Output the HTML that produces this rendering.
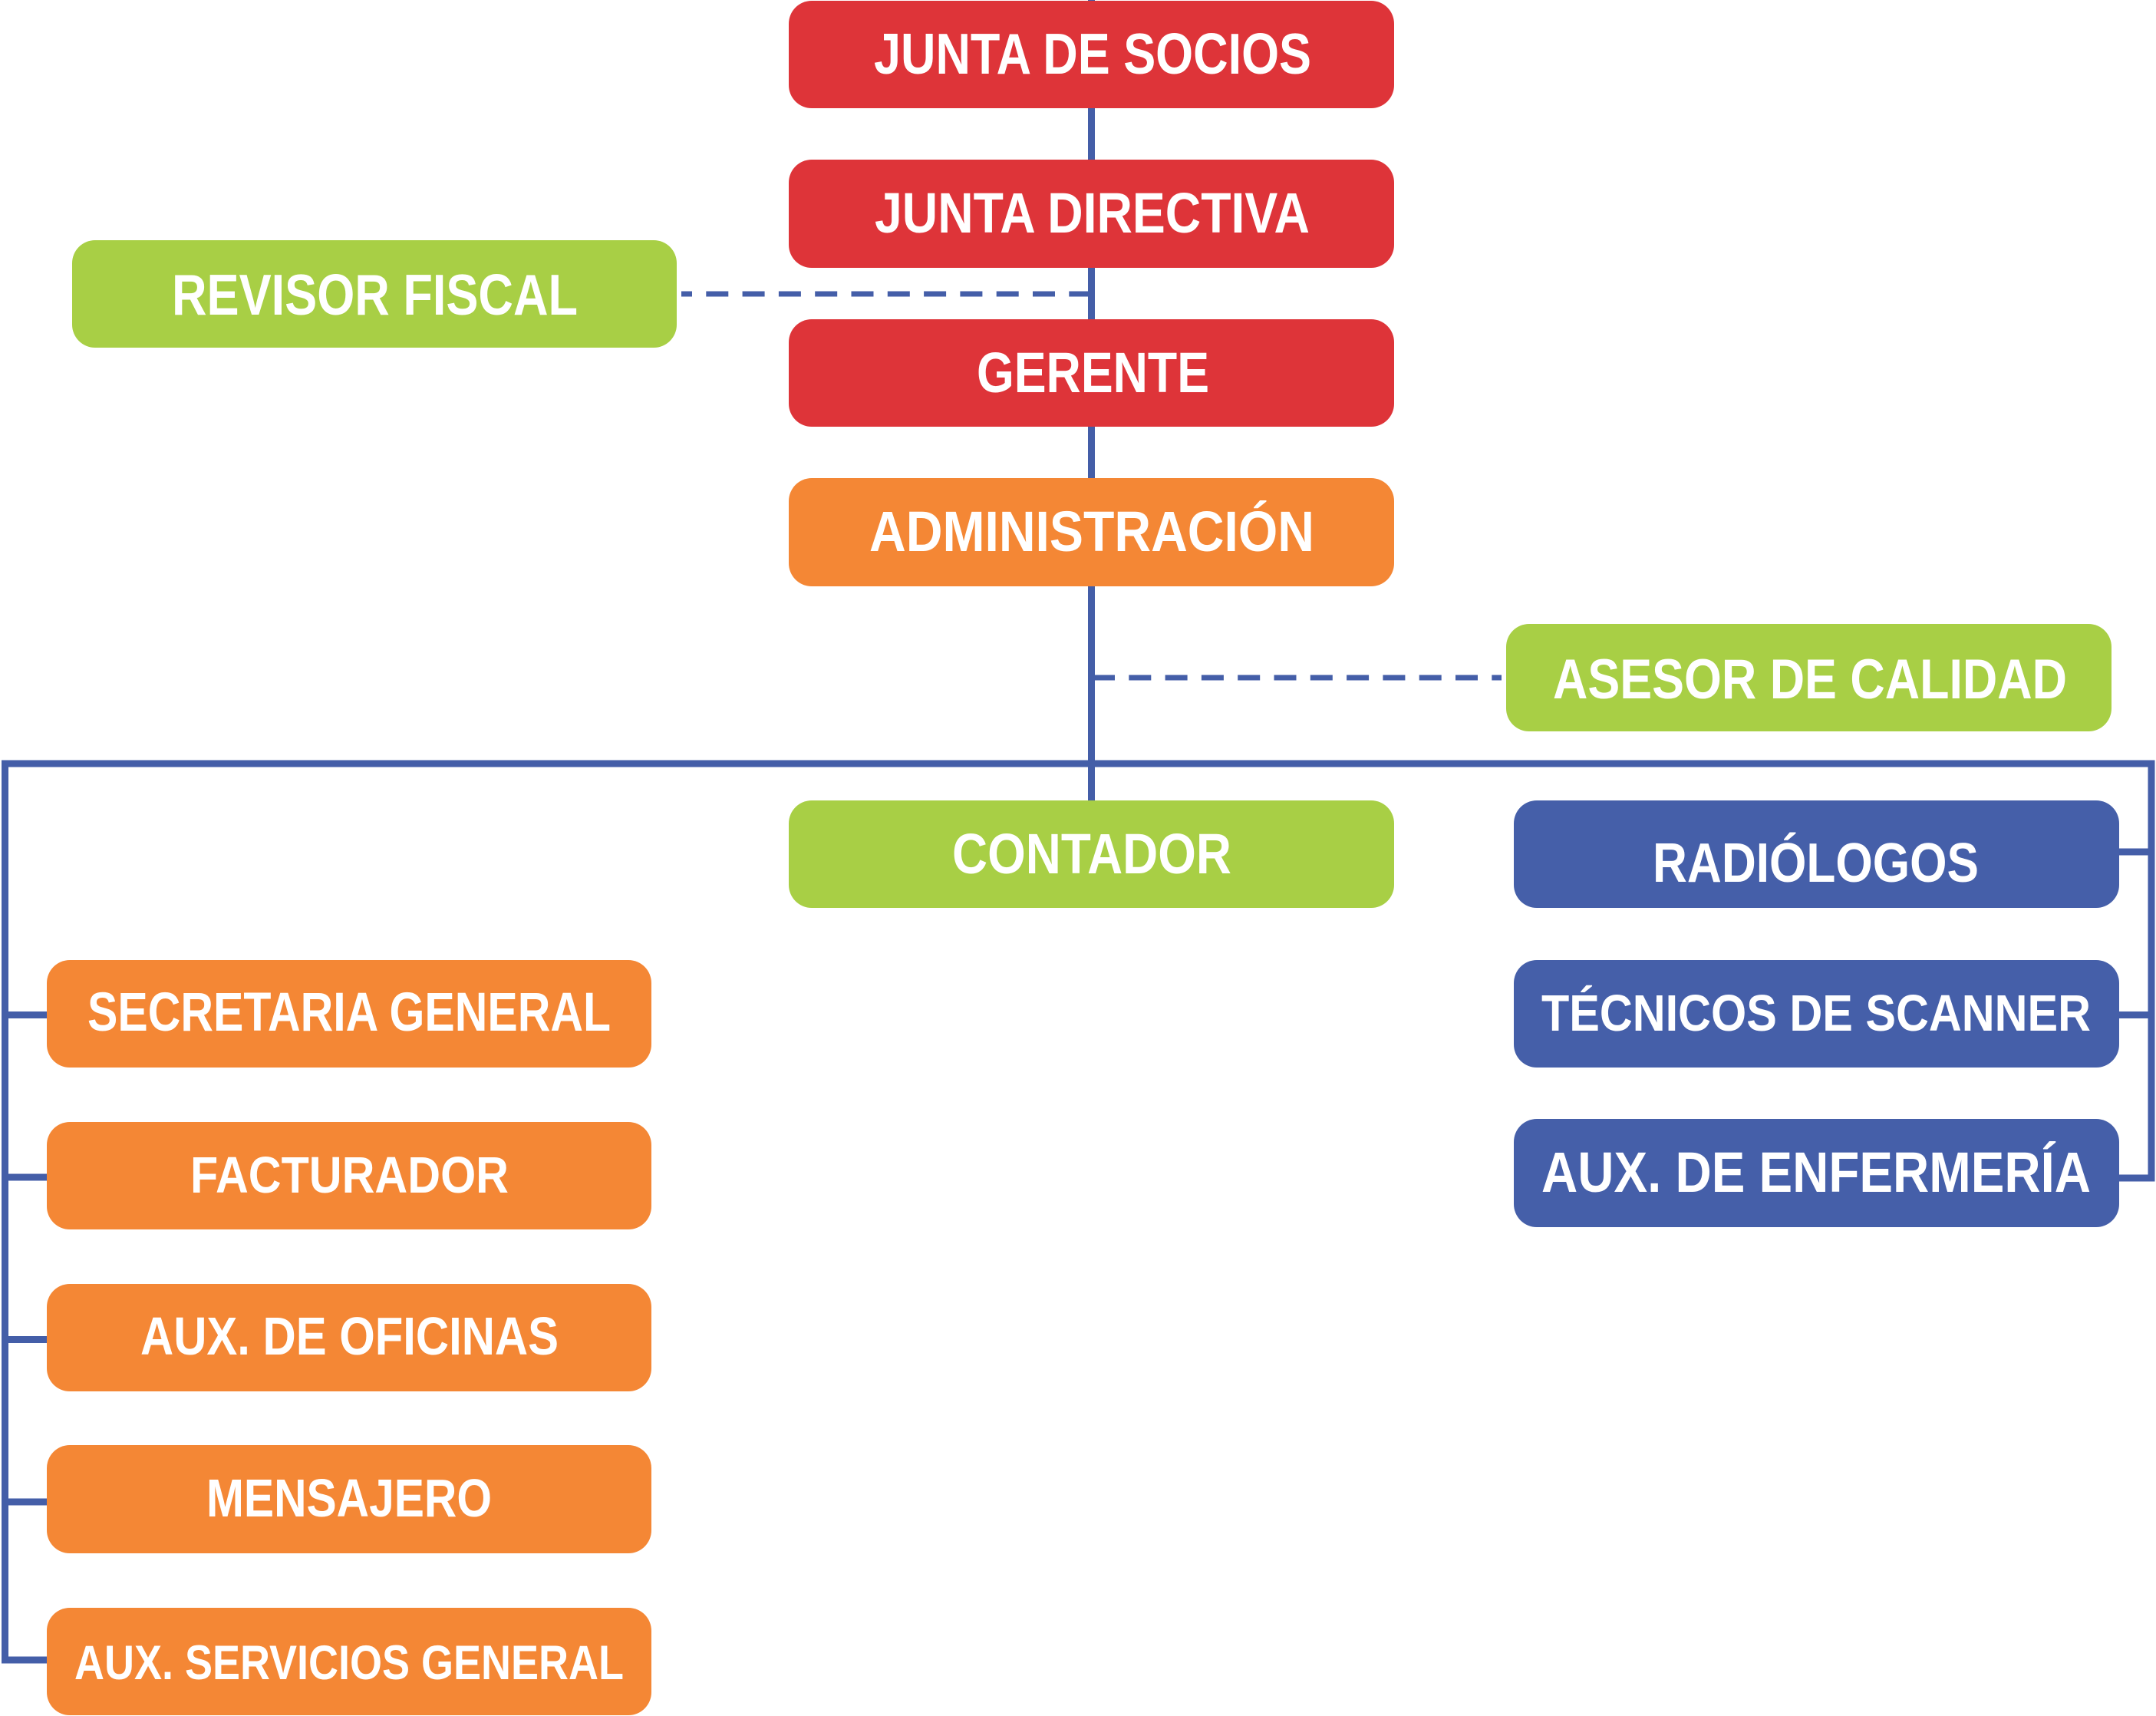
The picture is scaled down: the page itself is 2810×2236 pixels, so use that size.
<!DOCTYPE html>
<html>
<head>
<meta charset="utf-8">
<style>
html,body{margin:0;padding:0;background:#ffffff;}
svg{display:block;}
text{font-family:"Liberation Sans",Arial,sans-serif;font-weight:bold;fill:#ffffff;}
</style>
</head>
<body>
<svg width="2810" height="2236" viewBox="0 0 2810 2236" xmlns="http://www.w3.org/2000/svg">
<rect x="0" y="0" width="2810" height="2236" fill="#ffffff"/>

<!-- solid connectors -->
<g stroke="#445EA8" stroke-width="9" fill="none" stroke-linejoin="miter" stroke-linecap="butt">
  <line x1="1422.5" y1="0" x2="1422.5" y2="1045"/>
  <path d="M6.5,2163 L6.5,995 L2804,995 L2804,1535 L2762,1535"/>
  <line x1="6.5" y1="1322.5" x2="62" y2="1322.5"/>
  <line x1="6.5" y1="1534" x2="62" y2="1534"/>
  <line x1="6.5" y1="1745.5" x2="62" y2="1745.5"/>
  <line x1="6.5" y1="1957" x2="62" y2="1957"/>
  <line x1="2" y1="2163" x2="62" y2="2163"/>
  <line x1="2760" y1="1110" x2="2804" y2="1110"/>
  <line x1="2760" y1="1322.5" x2="2804" y2="1322.5"/>
</g>

<!-- dashed connectors -->
<g stroke="#445EA8" stroke-width="7" fill="none">
  <line x1="888" y1="383" x2="1420" y2="383" stroke-dasharray="29 18.3" stroke-dashoffset="15"/>
  <line x1="1424" y1="883" x2="1957" y2="883" stroke-dasharray="29 18.3"/>
</g>

<!-- red boxes -->
<g fill="#DE3439">
  <rect x="1028" y="1" width="789" height="140" rx="30"/>
  <rect x="1028" y="208" width="789" height="141" rx="30"/>
  <rect x="1028" y="416" width="789" height="140" rx="30"/>
</g>
<!-- orange -->
<g fill="#F48735">
  <rect x="1028" y="623" width="789" height="141" rx="30"/>
  <rect x="61" y="1251" width="788" height="140" rx="30"/>
  <rect x="61" y="1462" width="788" height="140" rx="30"/>
  <rect x="61" y="1673" width="788" height="140" rx="30"/>
  <rect x="61" y="1883" width="788" height="141" rx="30"/>
  <rect x="61" y="2095" width="788" height="140" rx="30"/>
</g>
<!-- green -->
<g fill="#A8CF45">
  <rect x="94" y="313" width="788" height="140" rx="30"/>
  <rect x="1963" y="813" width="789" height="140" rx="30"/>
  <rect x="1028" y="1043" width="789" height="140" rx="30"/>
</g>
<!-- blue -->
<g fill="#455FA9">
  <rect x="1973" y="1043" width="789" height="140" rx="30"/>
  <rect x="1973" y="1251" width="789" height="140" rx="30"/>
  <rect x="1973" y="1458" width="789" height="141" rx="30"/>
</g>

<!-- labels -->
<text x="1139" y="96" font-size="75" textLength="570" lengthAdjust="spacingAndGlyphs">JUNTA DE SOCIOS</text>
<text x="1140" y="303" font-size="74" textLength="567" lengthAdjust="spacingAndGlyphs">JUNTA DIRECTIVA</text>
<text x="1273" y="511" font-size="74" textLength="303" lengthAdjust="spacingAndGlyphs">GERENTE</text>
<text x="1133" y="718" font-size="74" textLength="580" lengthAdjust="spacingAndGlyphs">ADMINISTRACIÓN</text>
<text x="224" y="410" font-size="75" textLength="529" lengthAdjust="spacingAndGlyphs">REVISOR FISCAL</text>
<text x="2024" y="910" font-size="73" textLength="670" lengthAdjust="spacingAndGlyphs">ASESOR DE CALIDAD</text>
<text x="1241" y="1138" font-size="74" textLength="364" lengthAdjust="spacingAndGlyphs">CONTADOR</text>
<text x="2154" y="1149" font-size="72" textLength="425" lengthAdjust="spacingAndGlyphs">RADIÓLOGOS</text>
<text x="2009" y="1343" font-size="67" textLength="716" lengthAdjust="spacingAndGlyphs">TÉCNICOS DE SCANNER</text>
<text x="2009" y="1553" font-size="74" textLength="716" lengthAdjust="spacingAndGlyphs">AUX. DE ENFERMERÍA</text>
<text x="114" y="1343" font-size="71" textLength="682" lengthAdjust="spacingAndGlyphs">SECRETARIA GENERAL</text>
<text x="248" y="1554" font-size="67" textLength="415" lengthAdjust="spacingAndGlyphs">FACTURADOR</text>
<text x="183" y="1765" font-size="70" textLength="545" lengthAdjust="spacingAndGlyphs">AUX. DE OFICINAS</text>
<text x="269" y="1976" font-size="70" textLength="372" lengthAdjust="spacingAndGlyphs">MENSAJERO</text>
<text x="97" y="2188" font-size="63" textLength="716" lengthAdjust="spacingAndGlyphs">AUX. SERVICIOS GENERAL</text>
</svg>
</body>
</html>
